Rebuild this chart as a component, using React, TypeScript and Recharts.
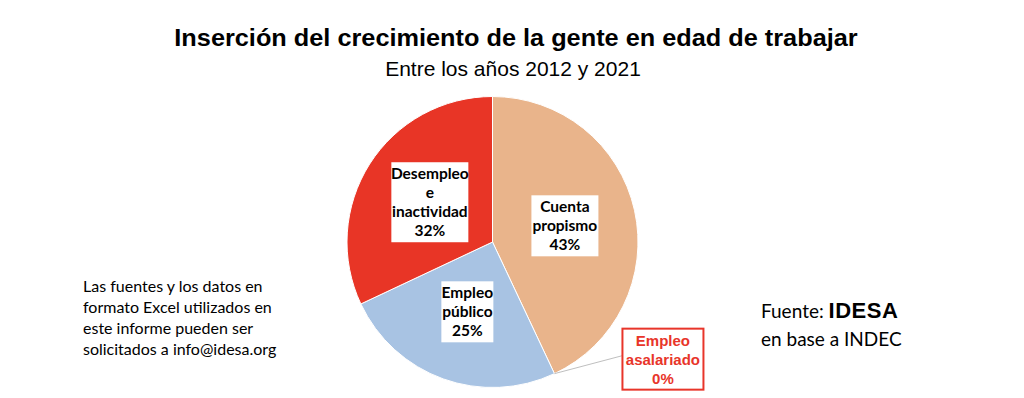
import React from 'react';
import { PieChart, Pie, Cell } from 'recharts';

// datos del gráfico
const categorias = ['Cuenta propismo', 'Empleo asalariado', 'Empleo público', 'Desempleo e inactividad'];
const porcentajes = [43, 0, 25, 32];
const etiquetas = [
  ['Cuenta', 'propismo', '43%'],
  ['Empleo', 'asalariado', '0%'],
  ['Empleo', 'público', '25%'],
  ['Desempleo', 'e', 'inactividad', '32%'],
];
const colores = ['#E9B48B', '#E8B48A', '#A8C3E3', '#E83526'];

const notaFuentes = [
  'Las fuentes y los datos en',
  'formato Excel utilizados en',
  'este informe pueden ser',
  'solicitados a info@idesa.org',
];

const data = categorias.map((name, i) => ({ name, value: porcentajes[i] }));

const RADIAN = Math.PI / 180;
const anchos = [67, 81, 52, 77];

const renderLabel = (props: any) => {
  const { cx, cy, midAngle, outerRadius, index } = props;
  const lines = etiquetas[index];
  const lh = 19;
  if (index === 1) {
    // etiqueta externa con borde rojo y línea guía
    const sx = cx + outerRadius * Math.cos(-midAngle * RADIAN);
    const sy = cy + outerRadius * Math.sin(-midAngle * RADIAN);
    const bx = sx + 68;
    const by = sy - 45;
    const w = anchos[index];
    const h = 61;
    return (
      <g key={`lbl-${index}`}>
        <line x1={sx} y1={sy} x2={bx} y2={by + 27} stroke="#BFBFBF" strokeWidth={1} />
        <rect x={bx} y={by} width={w} height={h} fill="#fff" stroke="#E8352A" strokeWidth={2} />
        {lines.map((t, j) => (
          <text
            key={j}
            x={bx + w / 2}
            y={by + 17 + j * lh}
            textAnchor="middle"
            fontFamily="'Liberation Sans', Arial, sans-serif"
            fontWeight="bold"
            fontSize={15}
            fill="#E8352A"
          >
            {t}
          </text>
        ))}
      </g>
    );
  }
  const r = outerRadius * 0.51;
  const x = cx + r * Math.cos(-midAngle * RADIAN);
  const y = cy + r * Math.sin(-midAngle * RADIAN);
  const w = anchos[index];
  const h = lines.length * lh + 4;
  return (
    <g key={`lbl-${index}`}>
      <rect x={x - w / 2} y={y - h / 2} width={w} height={h} fill="#fff" />
      {lines.map((t, j) => (
        <text
          key={j}
          x={x}
          y={y - h / 2 + 2 + lh * j + 14.5}
          textAnchor="middle"
          fontFamily="Lato, 'Open Sans', sans-serif"
          fontWeight="bold"
          fontSize={15.5}
          fill="#000"
        >
          {t}
        </text>
      ))}
    </g>
  );
};

const App: React.FC = () => {
  return (
    <div style={{ position: 'absolute', left: 0, top: 0, width: 1024, height: 398, background: '#fff', overflow: 'hidden' }}>
      <div
        style={{
          position: 'absolute',
          left: 0,
          top: 25,
          width: 1032,
          textAlign: 'center',
          fontFamily: "'Liberation Sans', Arial, sans-serif",
          fontWeight: 'bold',
          fontSize: 23,
          lineHeight: '26px',
          color: '#000',
          transform: 'scaleX(1.1)',
          transformOrigin: '516px 0',
        }}
      >
        Inserción del crecimiento de la gente en edad de trabajar
      </div>
      <div
        style={{
          position: 'absolute',
          left: 0,
          top: 58,
          width: 1026,
          textAlign: 'center',
          fontFamily: "'Liberation Sans', Arial, sans-serif",
          fontSize: 21,
          lineHeight: '22px',
          color: '#000',
        }}
      >
        Entre los años 2012 y 2021
      </div>
      <div
        style={{
          position: 'absolute',
          left: 83,
          top: 275,
          fontFamily: "Lato, 'Open Sans', sans-serif",
          fontSize: 16,
          lineHeight: '21px',
          color: '#000',
        }}
      >
        {notaFuentes.map((t) => (
          <div key={t}>{t}</div>
        ))}
      </div>
      <div
        style={{
          position: 'absolute',
          left: 761,
          top: 297,
          fontFamily: "Lato, 'Open Sans', sans-serif",
          fontSize: 19,
          lineHeight: '28px',
          color: '#000',
        }}
      >
        <div>
          Fuente:{' '}
          <span
            style={{
              fontFamily: "'Liberation Sans', Arial, sans-serif",
              fontWeight: 'bold',
              fontSize: 22,
              letterSpacing: 0.5,
            }}
          >
            IDESA
          </span>
        </div>
        <div>en base a INDEC</div>
      </div>
      <div style={{ position: 'absolute', left: 0, top: 0 }}>
        <PieChart width={1024} height={398} margin={{ top: 0, right: 0, bottom: 0, left: 0 }}>
          <Pie
            data={data}
            dataKey="value"
            nameKey="name"
            cx={492.5}
            cy={242}
            outerRadius={145.5}
            startAngle={90}
            endAngle={-270}
            stroke="#fff"
            strokeWidth={1}
            label={renderLabel}
            labelLine={false}
            isAnimationActive={false}
          >
            {data.map((d, i) => (
              <Cell key={d.name} fill={colores[i]} />
            ))}
          </Pie>
        </PieChart>
      </div>
    </div>
  );
};

export default App;
